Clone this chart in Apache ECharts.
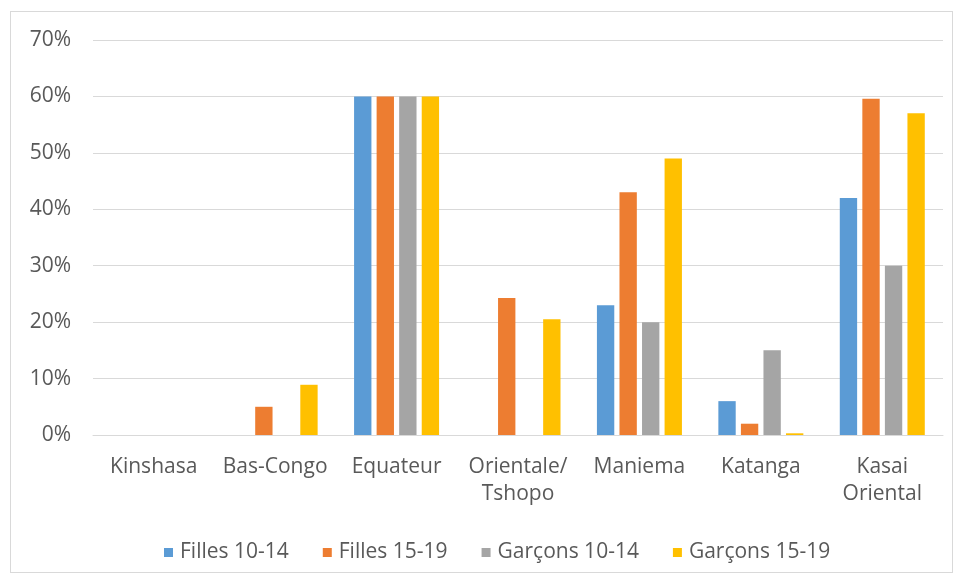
<!DOCTYPE html>
<html>
<head>
<meta charset="utf-8">
<script src="https://cdn.jsdelivr.net/npm/echarts@6/dist/echarts.min.js"></script>
<style>
  html, body { margin: 0; padding: 0; background: #fff; }
  #frame { position: absolute; left: 10px; top: 11px; width: 943px; height: 562px; border: 1px solid #d9d9d9; box-sizing: border-box; }
  #chart { position: absolute; left: 0; top: 0; width: 960px; height: 582px; }
</style>
</head>
<body>
<div id="frame"></div>
<div id="chart"></div>
<script>
// Regions (provinces)
const categories = ['Kinshasa', 'Bas-Congo', 'Equateur', 'Orientale/\nTshopo', 'Maniema', 'Katanga', 'Kasai\nOriental'];

// Share per group, in percent
const filles1014  = [0, 0,   60, 0,    23, 6,   42];
const filles1519  = [0, 5,   60, 24.3, 43, 2,   59.6];
const garcons1014 = [0, 0,   60, 0,    20, 15,  30];
const garcons1519 = [0, 8.9, 60, 20.5, 49, 0.3, 57];

const seriesNames = ['Filles 10-14', 'Filles 15-19', 'Garçons 10-14', 'Garçons 15-19'];
const seriesColors = ['#5B9BD5', '#ED7D31', '#A5A5A5', '#FFC000'];
const seriesData = [filles1014, filles1519, garcons1014, garcons1519];

const font = 'Open Sans, Noto Sans, sans-serif';
const textColor = '#595959';
const chart = echarts.init(document.getElementById('chart'));
chart.setOption({
  animation: false,
  color: seriesColors,
  grid: { left: 93, right: 17, top: 40, bottom: 147 },
  legend: {
    left: 159,
    top: 537,
    icon: 'rect',
    itemWidth: 9,
    itemHeight: 9,
    itemGap: 34,
    textStyle: { color: textColor, fontSize: 21, fontFamily: font, padding: [0, 0, 0, 2] },
    data: seriesNames
  },
  xAxis: {
    type: 'category',
    data: categories,
    axisLine: { lineStyle: { color: '#d9d9d9' } },
    axisTick: { show: false },
    axisLabel: { color: textColor, fontSize: 21, fontFamily: font, margin: 19, lineHeight: 27, interval: 0 }
  },
  yAxis: {
    type: 'value',
    min: 0,
    max: 70,
    interval: 10,
    axisLine: { show: false },
    axisTick: { show: false },
    splitLine: { lineStyle: { color: '#d9d9d9' } },
    axisLabel: { color: textColor, fontSize: 21, fontFamily: font, margin: 22, formatter: '{value}%' }
  },
  series: seriesData.map((d, i) => ({
    name: seriesNames[i],
    type: 'bar',
    data: d,
    barGap: '30%',
    barCategoryGap: '30%'
  }))
});
</script>
</body>
</html>
